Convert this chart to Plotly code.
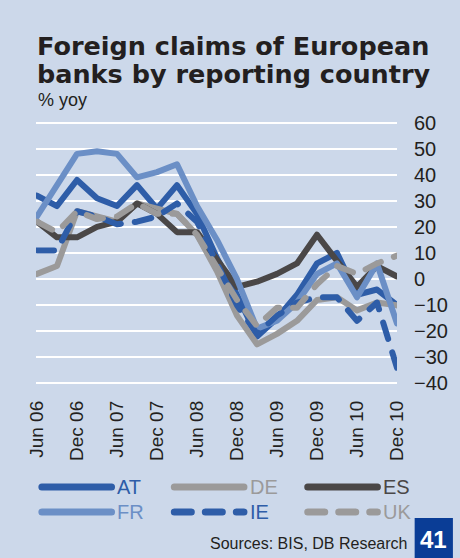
import plotly.graph_objects as go

# ---------------- data ----------------
quarters = ["Jun 06", "Sep 06", "Dec 06", "Mar 07", "Jun 07", "Sep 07", "Dec 07",
            "Mar 08", "Jun 08", "Sep 08", "Dec 08", "Mar 09", "Jun 09", "Sep 09",
            "Dec 09", "Mar 10", "Jun 10", "Sep 10", "Dec 10"]
tick_labels = ["Jun 06", "Dec 06", "Jun 07", "Dec 07", "Jun 08",
               "Dec 08", "Jun 09", "Dec 09", "Jun 10", "Dec 10"]
y_ticks = [60, 50, 40, 30, 20, 10, 0, -10, -20, -30, -40]

at = [32, 28, 38, 31, 28, 36, 27, 36, 25, 8, -6, -22, -15, -6, 6, 10, -6, -4, -10]
de = [2, 5, 26, 24, 22, 29, 27, 25, 17, 3, -14, -25, -21, -16, -8, -7, -12, -9, -10]
es = [22, 16, 16, 20, 22, 29, 25, 18, 18, 7, -3, -1, 2, 6, 17, 7, -3, 5, 1]
fr = [24, 36, 48, 49, 48, 39, 41, 44, 28, 15, 0, -19, -16, -9, 2, 6, -7, 6, -17]
ie = [11, 11, 26, 24, 21, 22, 24, 29, 22, 6, -10, -21, -14, -9, -7, -7, -16, -9, -34]
uk = [22, 18, 26, 23, 24, 29, 25, 25, 17, 4, -8, -18, -11, -11, -2, 5, 2, 6, 9]

series_names = ["AT", "DE", "ES", "FR", "IE", "UK"]
series_values = [at, de, es, fr, ie, uk]

# ---------------- styles ----------------
BLUE = "#2E5DA8"
LIGHTBLUE = "#6B8FC6"
GREY = "#9B9A9A"
DARK = "#4A4747"
BG = "#CCD8EA"
DASH = "17px,14px"
styles = {
    "AT": dict(color=BLUE, dash="solid"),
    "DE": dict(color=GREY, dash="solid"),
    "ES": dict(color=DARK, dash="solid"),
    "FR": dict(color=LIGHTBLUE, dash="solid"),
    "IE": dict(color=BLUE, dash=DASH),
    "UK": dict(color=GREY, dash=DASH),
}
LW = 6

W, H = 460, 558
L, R, T, B = 36, 56, 121, 173
PW, PH = W - L - R, H - T - B


def px(x):
    return (x - L) / PW


def py(y):
    return (H - B - y) / PH


fig = go.Figure()
for name, vals in zip(series_names, series_values):
    st = styles[name]
    fig.add_trace(go.Scatter(
        x=quarters, y=vals, mode="lines", name=name,
        line=dict(color=st["color"], width=LW, dash=st["dash"]),
        showlegend=False, hoverinfo="skip"))

fig.update_layout(
    width=W, height=H,
    margin=dict(l=L, r=R, t=T, b=B),
    paper_bgcolor=BG, plot_bgcolor=BG,
    font=dict(family="Liberation Sans, Arial, sans-serif", color="#231F20"),
    showlegend=False,
)
fig.update_xaxes(
    type="category", categoryorder="array", categoryarray=quarters,
    range=[-0.05, 18.0], tickmode="array", tickvals=tick_labels, ticktext=tick_labels,
    tickangle=-90, tickfont=dict(size=19), showgrid=False, zeroline=False,
    showline=False, ticks="", ticklabelstandoff=11,
)
fig.update_yaxes(
    side="right", range=[-40.6, 60.6], tickmode="array", tickvals=y_ticks,
    tickfont=dict(size=20), showgrid=True, gridcolor="white", gridwidth=2,
    zeroline=False, showline=False, ticks="", ticklabelstandoff=16,
)

ann = []
# title
ann.append(dict(text="<b>Foreign claims of European</b>", x=px(35), y=py(46),
                xanchor="left", yanchor="middle",
                font=dict(family="DejaVu Sans", size=25.5, color="#231F20")))
ann.append(dict(text="<b>banks by reporting country</b>", x=px(35), y=py(74),
                xanchor="left", yanchor="middle",
                font=dict(family="DejaVu Sans", size=25.5, color="#231F20")))
ann.append(dict(text="% yoy", x=px(36), y=py(100), xanchor="left", yanchor="middle",
                font=dict(size=18, color="#231F20")))

shapes = []
# legend (manual, two rows of three)
leg_x = [42, 177, 313]
leg_y = [487, 512]
for i, name in enumerate(series_names):
    st = styles[name]
    row = 0 if i < 3 else 1
    col = i % 3
    x0 = leg_x[col]
    yy = leg_y[row]
    shapes.append(dict(type="line", xref="paper", yref="paper",
                       x0=px(x0), x1=px(x0 + 71), y0=py(yy), y1=py(yy),
                       line=dict(color=st["color"], width=7, dash=st["dash"])))
    ann.append(dict(text=name, x=px(x0 + 75), y=py(yy), xanchor="left", yanchor="middle",
                    font=dict(size=20, color=st["color"])))

ann.append(dict(text="Sources: BIS, DB Research", x=px(416), y=py(543),
                xanchor="right", yanchor="middle", font=dict(size=16, color="#231F20")))
shapes.append(dict(type="rect", xref="paper", yref="paper", x0=px(422), x1=px(461),
                   y0=py(518), y1=py(559), fillcolor="#0A3D96", line=dict(width=0)))
ann.append(dict(text="<b>41</b>", x=px(441), y=py(539), xanchor="center", yanchor="middle",
                font=dict(size=24, color="white")))

for a in ann:
    a.setdefault("xref", "paper")
    a.setdefault("yref", "paper")
    a["showarrow"] = False
fig.update_layout(annotations=ann, shapes=shapes)

post = """
document.body.style.margin = '0';
document.body.style.padding = '0';
document.documentElement.style.overflow = 'hidden';
var gd = document.getElementById('{plot_id}');
function rc(){
  gd.querySelectorAll('path.js-line, .shapelayer path').forEach(function(p){
    p.style.strokeLinecap = 'round'; p.style.strokeLinejoin = 'round';
  });
}
rc(); setTimeout(rc, 30); setTimeout(rc, 200);
if (gd.on) { gd.on('plotly_afterplot', rc); }
"""
fig.write_html("out.html", post_script=post, config={"displayModeBar": False})
